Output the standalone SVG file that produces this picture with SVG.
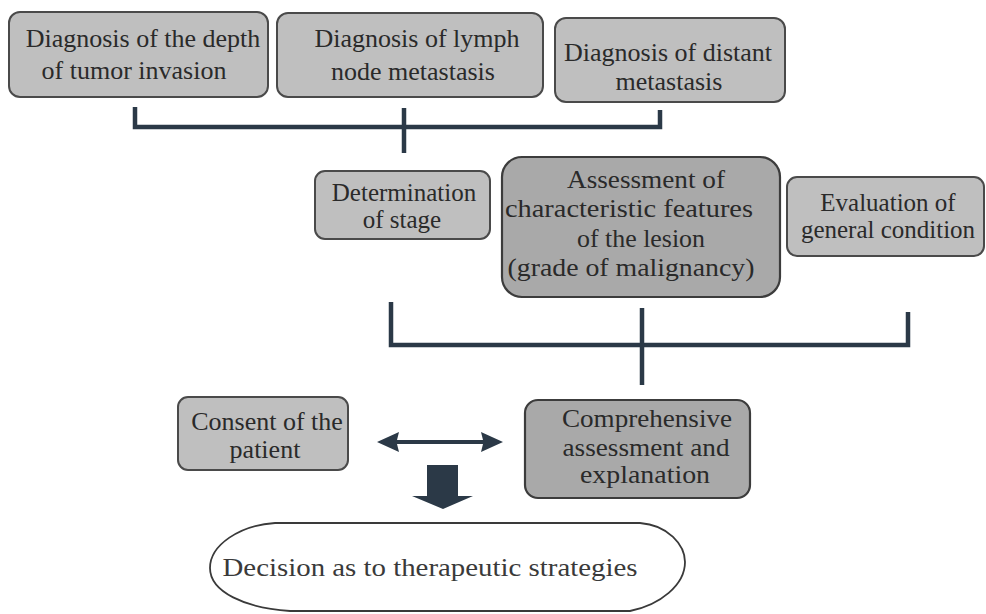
<svg xmlns="http://www.w3.org/2000/svg" width="986" height="614" viewBox="0 0 986 614">
<style>
  .box{fill:#bfbfbf;stroke:#4a4a4a;stroke-width:2}
  .dark{fill:#a9a9a9;stroke:#3c3c3c;stroke-width:2.2}
  .lbl{font-family:'Liberation Serif','Times New Roman',serif;font-size:26px;fill:#2a2a2a;text-anchor:middle}
  .sm{font-size:25px}
  .dec{font-family:'Liberation Serif','Times New Roman',serif;font-size:26px;fill:#3a3a3a;text-anchor:middle}
  .conn{fill:none;stroke:#2b3947;stroke-width:4.5;stroke-linecap:butt;stroke-linejoin:miter}
  .solid{fill:#2b3947}
</style>
<rect width="986" height="614" fill="#ffffff"/>
<g id="connectors">
  <path class="conn" d="M135 107 V127 H660 V110"/>
  <path class="conn" d="M404 108 V153"/>
  <path class="conn" d="M391 302 V345 H908 V312"/>
  <path class="conn" d="M642 308 V385"/>
  <path class="solid" d="M377 442 L399 432 L397 440 L483 440 L481 432 L503 442 L481 452 L483 444 L397 444 L399 452 Z"/>
  <path class="solid" d="M427 465 H458 V496 H473 L443 509 L412 496 H427 Z"/>
</g>
<g id="n-depth">
  <rect class="box" x="9" y="12" width="259" height="85" rx="11"/>
  <text class="lbl" x="143" y="47">Diagnosis of the depth</text>
  <text class="lbl" x="134" y="79">of tumor invasion</text>
</g>
<g id="n-lymph">
  <rect class="box" x="277" y="13" width="266" height="84" rx="11"/>
  <text class="lbl" x="417" y="47">Diagnosis of lymph</text>
  <text class="lbl" x="413" y="80">node metastasis</text>
</g>
<g id="n-distant">
  <rect class="box" x="555" y="18" width="230" height="84" rx="11"/>
  <text class="lbl" x="668" y="61">Diagnosis of distant</text>
  <text class="lbl" x="669" y="90">metastasis</text>
</g>
<g id="n-stage">
  <rect class="box" x="315" y="171" width="175" height="68" rx="10"/>
  <text class="lbl sm" x="404" y="201">Determination</text>
  <text class="lbl sm" x="402" y="228">of stage</text>
</g>
<g id="n-lesion">
  <rect class="dark" x="502" y="157" width="278" height="140" rx="20"/>
  <text class="lbl" x="646" y="188" textLength="158" lengthAdjust="spacingAndGlyphs">Assessment of</text>
  <text class="lbl" x="629" y="217" textLength="248" lengthAdjust="spacingAndGlyphs">characteristic features</text>
  <text class="lbl" x="641" y="247" textLength="128" lengthAdjust="spacingAndGlyphs">of the lesion</text>
  <text class="lbl" x="631" y="276" textLength="247" lengthAdjust="spacingAndGlyphs">(grade of malignancy)</text>
</g>
<g id="n-general">
  <rect class="box" x="787" y="177" width="197" height="79" rx="10"/>
  <text class="lbl sm" x="888" y="211">Evaluation of</text>
  <text class="lbl sm" x="888" y="238">general condition</text>
</g>
<g id="n-consent">
  <rect class="box" x="178" y="397" width="170" height="73" rx="10"/>
  <text class="lbl" x="267" y="430">Consent of the</text>
  <text class="lbl" x="265" y="458">patient</text>
</g>
<g id="n-comprehensive">
  <rect class="dark" x="525" y="400" width="225" height="98" rx="13"/>
  <text class="lbl" x="647" y="427" textLength="170" lengthAdjust="spacingAndGlyphs">Comprehensive</text>
  <text class="lbl" x="646" y="456" textLength="167" lengthAdjust="spacingAndGlyphs">assessment and</text>
  <text class="lbl" x="645" y="483" textLength="130" lengthAdjust="spacingAndGlyphs">explanation</text>
</g>
<g id="n-decision">
  <path d="M275 523 L640 523 C668 525 685 545 685 562 C685 585 660 605 630 611 L290 611 C245 608 210 592 210 568 C210 545 240 525 275 523 Z" fill="#ffffff" stroke="#3a3a3a" stroke-width="1.8"/>
  <text class="dec" x="430" y="576" textLength="415" lengthAdjust="spacingAndGlyphs">Decision as to therapeutic strategies</text>
</g>
</svg>
